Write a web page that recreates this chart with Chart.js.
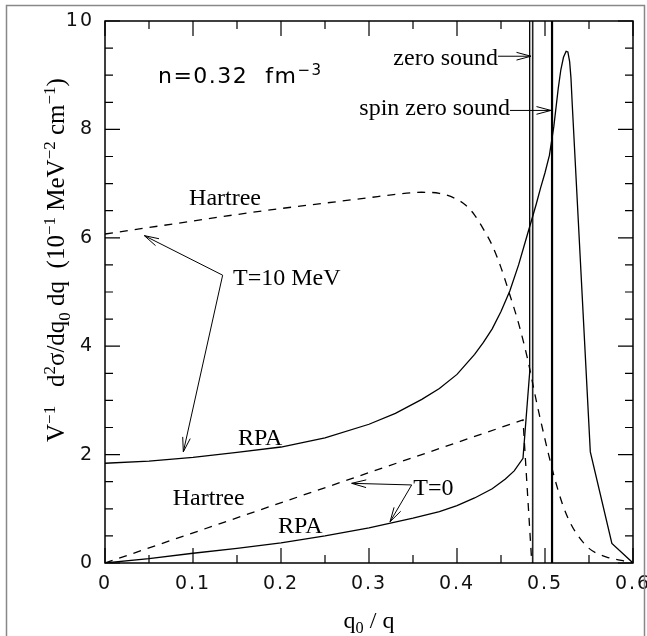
<!DOCTYPE html>
<html>
<head>
<meta charset="utf-8">
<script src="https://cdn.jsdelivr.net/npm/chart.js@4.4.1/dist/chart.umd.min.js"></script>
<style>
  html, body { margin: 0; padding: 0; background: #fff; }
  canvas { display: block; }
</style>
</head>
<body>
<canvas id="c" width="647" height="636"></canvas>
<script>
// ---- data: q0/q on x, V^-1 d2sigma/dq0 dq on y ----
const hartreeT10X = [0, 0.05, 0.1, 0.15, 0.2, 0.25, 0.3, 0.33, 0.36, 0.38, 0.4, 0.41, 0.42, 0.43, 0.44, 0.45, 0.46, 0.47, 0.48, 0.49, 0.5, 0.51, 0.52, 0.53, 0.54, 0.55, 0.56, 0.57, 0.58, 0.59, 0.6];
const hartreeT10Y = [6.07, 6.19, 6.31, 6.43, 6.54, 6.64, 6.74, 6.80, 6.84, 6.82, 6.71, 6.60, 6.42, 6.16, 5.86, 5.45, 4.95, 4.42, 3.78, 3.0, 2.28, 1.62, 1.08, 0.70, 0.45, 0.27, 0.17, 0.11, 0.07, 0.035, 0];

const rpaT10X = [0, 0.05, 0.1, 0.15, 0.2, 0.25, 0.3, 0.33, 0.36, 0.38, 0.4, 0.42, 0.43, 0.44, 0.45, 0.46, 0.47, 0.48, 0.49, 0.495, 0.5, 0.505, 0.51, 0.515, 0.518, 0.521, 0.524, 0.526, 0.528, 0.5295, 0.531, 0.5515, 0.576, 0.6];
const rpaT10Y = [1.84, 1.88, 1.95, 2.04, 2.14, 2.31, 2.56, 2.76, 3.02, 3.22, 3.48, 3.85, 4.07, 4.32, 4.64, 5.02, 5.50, 6.06, 6.62, 6.92, 7.20, 7.52, 8.05, 8.75, 9.10, 9.33, 9.44, 9.43, 9.25, 8.95, 8.45, 2.05, 0.36, 0];

const hartreeT0X = [0, 0.475, 0.485];
const hartreeT0Y = [0, 2.64, 0];

const rpaT0X = [0, 0.05, 0.1, 0.15, 0.2, 0.25, 0.3, 0.35, 0.38, 0.4, 0.42, 0.44, 0.455, 0.465, 0.475, 0.4825, 0.4826];
const rpaT0Y = [0, 0.08, 0.18, 0.27, 0.37, 0.50, 0.65, 0.83, 0.95, 1.06, 1.20, 1.37, 1.55, 1.70, 1.93, 3.5, 11];

// collective modes (vertical lines)
const zeroSoundX = 0.486;
const spinZeroSoundX = 0.508;
const modeLineY = [0, 10];

// axes
const xTickValues = [0, 0.1, 0.2, 0.3, 0.4, 0.5, 0.6];
const xTickLabels = ['0', '0.1', '0.2', '0.3', '0.4', '0.5', '0.6'];
const xMinorTicks = [0.05, 0.15, 0.25, 0.35, 0.45, 0.55];
const yTickValues = [0, 2, 4, 6, 8, 10];
const yTickLabels = ['0', '2', '4', '6', '8', '10'];
const yMinorTicks = [0.5, 1, 1.5, 2.5, 3, 3.5, 4.5, 5, 5.5, 6.5, 7, 7.5, 8.5, 9, 9.5];

// ---- labels and arrows, placed in data units ----
const SERIF = '"Liberation Serif", "Times New Roman", serif';
const SANS = '"DejaVu Sans", sans-serif';

const notes = [
  { text: 'Hartree',         x: 0.1364, y: 6.60, align: 'center' },
  { text: 'T=10 MeV',        x: 0.1455, y: 5.13, align: 'left' },
  { text: 'RPA',             x: 0.1511, y: 2.18, align: 'left' },
  { text: 'Hartree',         x: 0.0769, y: 1.07, align: 'left' },
  { text: 'RPA',             x: 0.1966, y: 0.55, align: 'left' },
  { text: 'T=0',             x: 0.3504, y: 1.255, align: 'left' },
  { text: 'zero sound',      x: 0.4466, y: 9.19, align: 'right' },
  { text: 'spin zero sound', x: 0.4602, y: 8.27, align: 'right' }
];

// each arrow is a polyline; heads are drawn at the listed ends
const arrows = [
  { pts: [[0.0447, 6.04], [0.1337, 5.31], [0.0890, 2.05]], heads: [0, 1] },
  { pts: [[0.2803, 1.47], [0.3485, 1.44], [0.3239, 0.76]], heads: [0, 1] },
  { pts: [[0.4466, 9.35], [0.4841, 9.35]], heads: [1] },
  { pts: [[0.4602, 8.35], [0.5068, 8.35]], heads: [1] }
];

const densityLabel = [['n=0.32  fm'], ['\u22123', 'sup']];
const yTitle = [['V'], ['\u22121', 'sup'], ['   d'], ['2', 'sup'], ['\u03c3/dq'], ['0', 'sub'], [' dq  (10'], ['\u22121', 'sup'], [' MeV'], ['\u22122', 'sup'], [' cm'], ['\u22121', 'sup'], [')']];
const xTitle = [['q'], ['0', 'sub'], [' / q']];

const pts = (xs, ys) => xs.map((x, i) => ({ x: x, y: ys[i] }));

// ---- rich text helpers (super/subscripts) ----
function segFont(size, kind, family) {
  const s = kind ? size * 0.68 : size;
  return s.toFixed(1) + 'px ' + family;
}
function richWidth(ctx, segs, size, family) {
  let w = 0;
  for (const [t, k] of segs) { ctx.font = segFont(size, k, family); w += ctx.measureText(t).width; }
  return w;
}
function drawRich(ctx, segs, x, y, size, family) {
  let cx = x;
  for (const [t, k] of segs) {
    ctx.font = segFont(size, k, family);
    const dy = k === 'sup' ? -size * 0.38 : (k === 'sub' ? size * 0.22 : 0);
    ctx.fillText(t, cx, y + dy);
    cx += ctx.measureText(t).width;
  }
}

function arrowHead(ctx, fx, fy, tx, ty) {
  const ang = Math.atan2(ty - fy, tx - fx);
  const L = 15, a = 0.26;
  ctx.beginPath();
  ctx.moveTo(tx - L * Math.cos(ang - a), ty - L * Math.sin(ang - a));
  ctx.lineTo(tx, ty);
  ctx.lineTo(tx - L * Math.cos(ang + a), ty - L * Math.sin(ang + a));
  ctx.stroke();
}

const decor = {
  id: 'decor',
  beforeDraw(chart) {
    chart.ctx.letterSpacing = '2px';
  },
  beforeDatasetsDraw(chart) {
    chart.ctx.letterSpacing = '0px';
  },
  afterDraw(chart) {
    const ctx = chart.ctx;
    const xs = chart.scales.x, ys = chart.scales.y;
    const X = v => xs.getPixelForValue(v), Y = v => ys.getPixelForValue(v);
    const a = chart.chartArea;
    ctx.save();
    ctx.letterSpacing = '0px';

    // plot frame
    ctx.strokeStyle = '#000';
    ctx.lineWidth = 1.5;
    ctx.strokeRect(a.left, a.top, a.right - a.left, a.bottom - a.top);

    // inward ticks on all four sides
    ctx.lineWidth = 1.2;
    ctx.beginPath();
    const tx = (v, len) => {
      const p = X(v);
      ctx.moveTo(p, a.bottom); ctx.lineTo(p, a.bottom - len);
      ctx.moveTo(p, a.top); ctx.lineTo(p, a.top + len);
    };
    const ty = (v, len) => {
      const p = Y(v);
      ctx.moveTo(a.left, p); ctx.lineTo(a.left + len, p);
      ctx.moveTo(a.right, p); ctx.lineTo(a.right - len, p);
    };
    xTickValues.forEach(v => tx(v, 15));
    xMinorTicks.forEach(v => tx(v, 8));
    yTickValues.forEach(v => ty(v, 15));
    yMinorTicks.forEach(v => ty(v, 8));
    ctx.stroke();

    // arrows
    ctx.lineWidth = 1;
    ctx.strokeStyle = '#000';
    for (const ar of arrows) {
      const p = ar.pts.map(([u, v]) => [X(u), Y(v)]);
      ctx.beginPath();
      ctx.moveTo(p[0][0], p[0][1]);
      for (let i = 1; i < p.length; i++) ctx.lineTo(p[i][0], p[i][1]);
      ctx.stroke();
      for (const h of ar.heads) {
        if (h === 0) arrowHead(ctx, p[1][0], p[1][1], p[0][0], p[0][1]);
        else arrowHead(ctx, p[p.length - 2][0], p[p.length - 2][1], p[p.length - 1][0], p[p.length - 1][1]);
      }
    }

    // curve labels
    ctx.fillStyle = '#000';
    ctx.textBaseline = 'alphabetic';
    ctx.font = '24px ' + SERIF;
    for (const n of notes) {
      ctx.textAlign = n.align;
      ctx.fillText(n.text, X(n.x), Y(n.y));
    }
    ctx.textAlign = 'left';

    // density label
    ctx.letterSpacing = '1.5px';
    drawRich(ctx, densityLabel, X(0.0602), Y(8.85), 22, SANS);
    ctx.letterSpacing = '0px';

    // axis titles
    const ySize = 25;
    const yw = richWidth(ctx, yTitle, ySize, SERIF);
    ctx.save();
    ctx.translate(64, 260 + yw / 2);
    ctx.rotate(-Math.PI / 2);
    drawRich(ctx, yTitle, 0, 0, ySize, SERIF);
    ctx.restore();

    const xw = richWidth(ctx, xTitle, 24, SERIF);
    drawRich(ctx, xTitle, (a.left + a.right) / 2 - xw / 2, 628, 24, SERIF);

    // page border
    ctx.strokeStyle = '#888';
    ctx.lineWidth = 1.5;
    ctx.beginPath();
    ctx.moveTo(6.5, 640); ctx.lineTo(6.5, 5.5); ctx.lineTo(644.5, 5.5); ctx.lineTo(644.5, 640);
    ctx.stroke();
    ctx.restore();
  }
};

const solid = { borderColor: '#000', borderWidth: 1.3, pointRadius: 0, fill: false };
const dashed = Object.assign({}, solid, { borderDash: [8, 7] });

new Chart(document.getElementById('c'), {
  type: 'line',
  data: {
    datasets: [
      Object.assign({ label: 'Hartree T=10 MeV', data: pts(hartreeT10X, hartreeT10Y), cubicInterpolationMode: 'monotone' }, dashed),
      Object.assign({ label: 'RPA T=10 MeV', data: pts(rpaT10X, rpaT10Y), tension: 0 }, solid),
      Object.assign({ label: 'Hartree T=0', data: pts(hartreeT0X, hartreeT0Y), tension: 0 }, dashed),
      Object.assign({ label: 'RPA T=0', data: pts(rpaT0X, rpaT0Y), tension: 0 }, solid),
      Object.assign({ label: 'zero sound', data: modeLineY.map(y => ({ x: zeroSoundX, y: y })) }, solid, { borderWidth: 1.6, borderColor: '#222' }),
      Object.assign({ label: 'spin zero sound', data: modeLineY.map(y => ({ x: spinZeroSoundX, y: y })) }, solid, { borderWidth: 2.2 })
    ]
  },
  options: {
    responsive: false,
    animation: false,
    events: [],
    layout: { padding: { left: 0, right: 14, top: 21, bottom: 0 } },
    plugins: { legend: { display: false }, tooltip: { enabled: false }, title: { display: false } },
    scales: {
      x: {
        type: 'linear', min: 0, max: 0.6,
        grid: { display: false, drawTicks: false },
        border: { display: false },
        ticks: {
          padding: 10, color: '#111', font: { family: SANS, size: 19 }, maxRotation: 0,
          callback: (v) => { const i = xTickValues.findIndex(t => Math.abs(t - v) < 1e-9); return i >= 0 ? xTickLabels[i] : ''; }
        },
        afterBuildTicks: (s) => { s.ticks = xTickValues.map(v => ({ value: v })); },
        afterFit: (s) => { s.height = 73; s.paddingLeft = 0; s.paddingRight = 0; }
      },
      y: {
        type: 'linear', min: 0, max: 10,
        grid: { display: false, drawTicks: false },
        border: { display: false },
        ticks: {
          padding: 11, color: '#111', font: { family: SANS, size: 19 },
          callback: (v) => { const i = yTickValues.indexOf(v); return i >= 0 ? yTickLabels[i] : ''; }
        },
        afterBuildTicks: (s) => { s.ticks = yTickValues.map(v => ({ value: v })); },
        afterFit: (s) => { s.width = 105; s.paddingTop = 0; s.paddingBottom = 0; }
      }
    }
  },
  plugins: [decor]
});
</script>
</body>
</html>
